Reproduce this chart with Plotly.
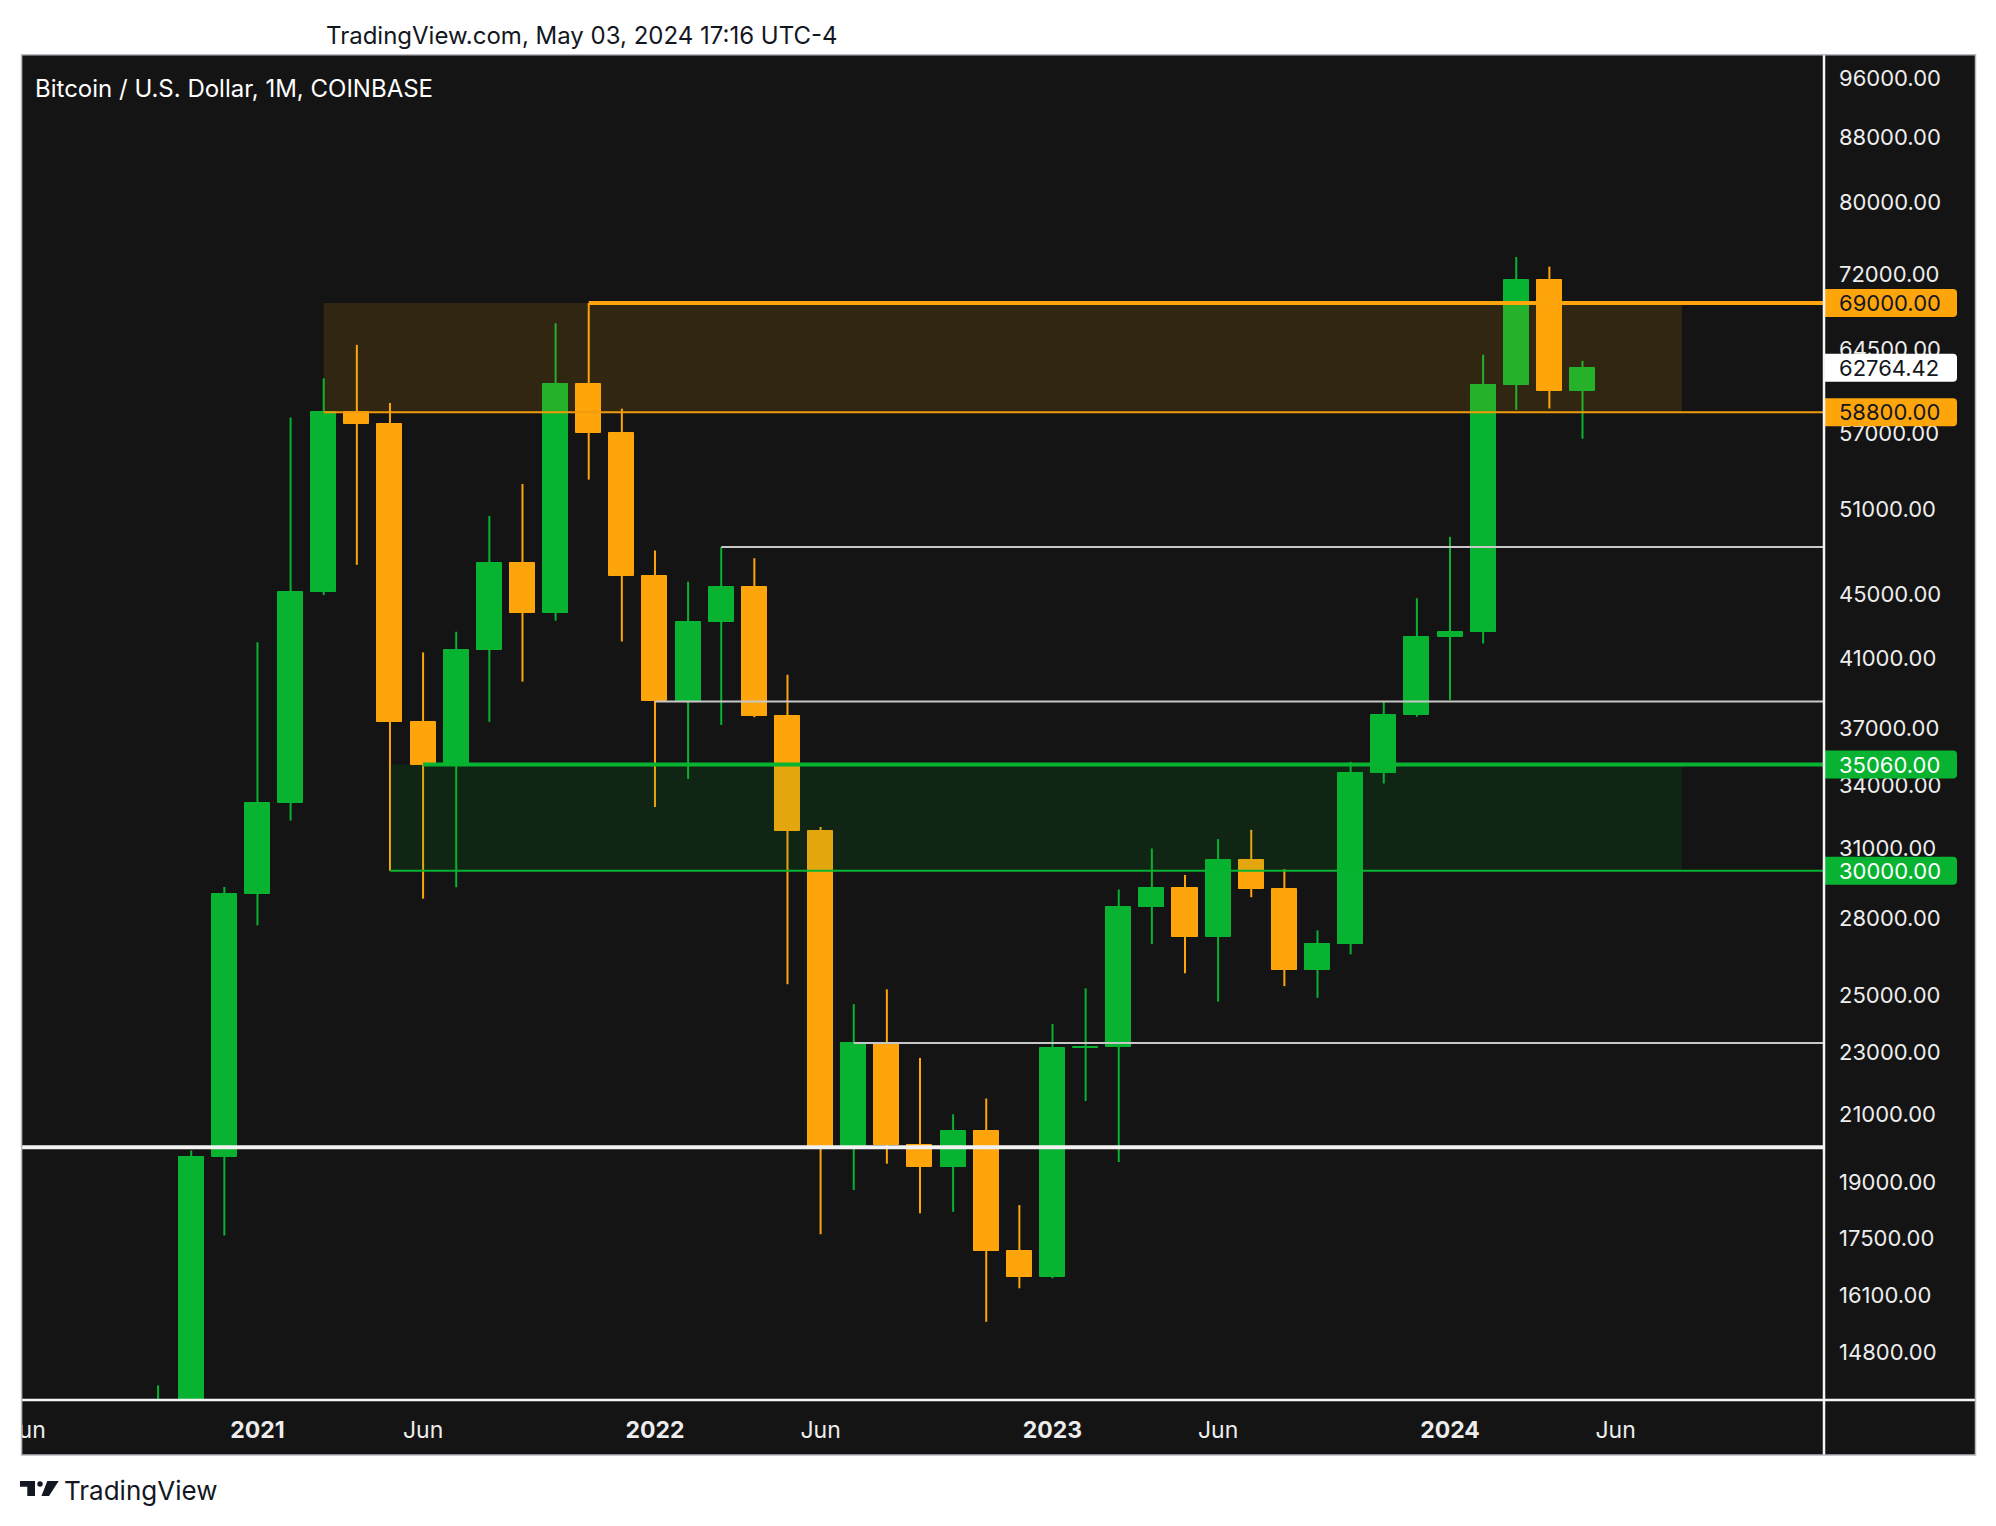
import numpy as np
import plotly.graph_objects as go

# ---------------- data (monthly BTC/USD, Coinbase) ----------------
months = ["2020-10", "2020-11", "2020-12",
          "2021-01", "2021-02", "2021-03", "2021-04", "2021-05", "2021-06",
          "2021-07", "2021-08", "2021-09", "2021-10", "2021-11", "2021-12",
          "2022-01", "2022-02", "2022-03", "2022-04", "2022-05", "2022-06",
          "2022-07", "2022-08", "2022-09", "2022-10", "2022-11", "2022-12",
          "2023-01", "2023-02", "2023-03", "2023-04", "2023-05", "2023-06",
          "2023-07", "2023-08", "2023-09", "2023-10", "2023-11", "2023-12",
          "2024-01", "2024-02", "2024-03", "2024-04", "2024-05"]
opens = [10780, 13800, 19700,
         28990, 33115, 45160, 58800, 57750, 37300,
         35060, 41460, 47130, 43820, 61320, 57000,
         46210, 38466, 43190, 45510, 37640, 31800,
         19940, 23300, 20050, 19420, 20490, 17170,
         16540, 23130, 23150, 28460, 29250, 27220,
         30470, 29230, 25940, 26960, 34650, 37720,
         42280, 42580, 61170, 71330, 60670]
highs = [14100, 19900, 29300,
         41950, 58350, 61790, 64900, 59600, 41330,
         42600, 50500, 52920, 67000, 69000, 59100,
         47990, 45850, 48240, 47460, 40000, 31990,
         24670, 25210, 22800, 20990, 21480, 18370,
         23960, 25250, 29190, 31000, 29820, 31430,
         31860, 30070, 27490, 35200, 38450, 44750,
         48970, 63970, 73840, 72800, 63400]
lows = [10370, 13240, 17570,
        27700, 32300, 44960, 47000, 30000, 28800,
        29280, 37330, 39600, 43300, 53260, 42000,
        32950, 34330, 37160, 37580, 25400, 17600,
        18780, 19520, 18150, 18190, 15480, 16260,
        16500, 21400, 19570, 26940, 25810, 24760,
        28860, 25330, 24900, 26540, 34100, 37610,
        38550, 41880, 59000, 59120, 56550]
closes = [13800, 19700, 28990,
          33115, 45160, 58800, 57750, 37300, 35060,
          41460, 47130, 43820, 61320, 57000, 46210,
          38466, 43190, 45510, 37640, 31800, 19940,
          23300, 20050, 19420, 20490, 17170, 16540,
          23130, 23150, 28460, 29250, 27220, 30470,
          29230, 25940, 26960, 34650, 37720, 42280,
          42580, 61170, 71330, 60670, 62764.42]

# time-axis labels (bar index: 0 = Oct 2020)
x_tick_idx = [-4, 3, 8, 15, 20, 27, 32, 39, 44]
x_tick_text = ["Jun", "<b>2021</b>", "Jun", "<b>2022</b>", "Jun",
               "<b>2023</b>", "Jun", "<b>2024</b>", "Jun"]

# price-axis labels
y_tick_vals = [96000, 88000, 80000, 72000, 64500, 57000, 51000, 45000, 41000,
               37000, 34000, 31000, 28000, 25000, 23000, 21000, 19000, 17500,
               16100, 14800]

# drawn levels
zone_top = [69000, 58800]       # resistance zone
zone_bottom = [35060, 30000]    # support zone
white_levels = [48240, 38466, 23300]
white_level_start = [17, 15, 21]   # bar index where each level starts
big_level = 20000
last_price = 62764.42

# ---------------- styling ----------------
OFF = 8                      # page body margin
W, H = 1996 - OFF, 1526 - OFF
L, T = 22 - OFF, 55 - OFF
R = W - (1824 - OFF)
B = H - (1400 - OFF)
PW, PH = W - L - R, H - T - B
BG = "#141414"
GREEN = "#07b331"
ORANGE = "#ffa50c"
TXT = "#ededed"
DARK = "#131722"
FONT = "Inter"


def PX(x):   # page pixel -> paper
    return (x - OFF - L) / PW


def PY(y):
    return (H - B - (y - OFF)) / PH


idx = list(range(len(months)))
up = [c >= o for o, c in zip(opens, closes)]
cols = [GREEN if u else ORANGE for u in up]

fig = go.Figure()

# wicks
for flag, col in [(True, GREEN), (False, ORANGE)]:
    wx, wy = [], []
    for i, h, l, u in zip(idx, highs, lows, up):
        if u == flag:
            wx += [i, i, None]
            wy += [l, h, None]
    fig.add_trace(go.Scatter(x=wx, y=wy, mode="lines",
                             line=dict(color=col, width=2),
                             hoverinfo="skip", showlegend=False))

# bodies
fig.add_trace(go.Bar(x=idx, y=[c - o for o, c in zip(opens, closes)], base=opens,
                     width=0.755,
                     marker=dict(color=cols, line=dict(color=cols, width=1)),
                     hoverinfo="skip", showlegend=False))

XMIN, XMAX = -4.108, 50.29
shapes = []
FR_L = PX(21.6)
FR_R = PX(1975.5)
FR_B = PY(1455)
FR_T = PY(54.7)
shapes.append(dict(type="rect", xref="paper", yref="paper", x0=FR_L, x1=FR_R,
                   y0=FR_B, y1=FR_T, fillcolor=BG, line=dict(width=0), layer="below"))

# zones (translucent, above candles)
shapes.append(dict(type="rect", xref="x", yref="y", x0=5, x1=46,
                   y0=zone_top[1], y1=zone_top[0],
                   fillcolor="rgba(255,165,0,0.125)", line=dict(width=0), layer="above"))
shapes.append(dict(type="rect", xref="x", yref="y", x0=7, x1=46,
                   y0=zone_bottom[1], y1=zone_bottom[0],
                   fillcolor="rgba(0,180,40,0.11)", line=dict(width=0), layer="above"))
# zone lines
shapes.append(dict(type="line", xref="x", yref="y", x0=13, x1=XMAX,
                   y0=zone_top[0], y1=zone_top[0], line=dict(color=ORANGE, width=4), layer="above"))
shapes.append(dict(type="line", xref="x", yref="y", x0=5, x1=XMAX,
                   y0=zone_top[1], y1=zone_top[1], line=dict(color="#f29a0e", width=2), layer="above"))
shapes.append(dict(type="line", xref="x", yref="y", x0=8, x1=XMAX,
                   y0=zone_bottom[0], y1=zone_bottom[0], line=dict(color=GREEN, width=4), layer="above"))
shapes.append(dict(type="line", xref="x", yref="y", x0=7, x1=XMAX,
                   y0=zone_bottom[1], y1=zone_bottom[1], line=dict(color=GREEN, width=2), layer="above"))
# white levels
for lv, st in zip(white_levels, white_level_start):
    shapes.append(dict(type="line", xref="x", yref="y", x0=st, x1=XMAX, y0=lv, y1=lv,
                       line=dict(color="#c8c8c8", width=2), layer="above"))
shapes.append(dict(type="line", xref="x", yref="y", x0=XMIN, x1=XMAX, y0=big_level, y1=big_level,
                   line=dict(color="#f2f2f2", width=4), layer="above"))

# price labels on the axis
boxes = [(zone_top[0], ORANGE, DARK), (last_price, "#ffffff", DARK), (zone_top[1], ORANGE, DARK),
         (zone_bottom[0], GREEN, "#ffffff"), (zone_bottom[1], GREEN, "#ffffff")]
box_path = "M0,-14 L129,-14 Q133,-14 133,-10 L133,10 Q133,14 129,14 L0,14 Z"
annotations = []
for v, bg, fg in boxes:
    shapes.append(dict(type="path", xref="paper", yref="y", xsizemode="pixel", ysizemode="pixel",
                       xanchor=1, yanchor=v, path=box_path, fillcolor=bg,
                       line=dict(width=0), layer="above"))
    annotations.append(dict(xref="paper", yref="y", x=1, y=float(np.log10(v)), xanchor="left",
                            yanchor="middle", xshift=13, showarrow=False,
                            text=f"{v:.2f}", font=dict(family=FONT, size=22, color=fg)))

# white cover left of the frame (clips the first time label)
shapes.append(dict(type="rect", xref="paper", yref="paper", x0=PX(0), x1=FR_L,
                   y0=FR_B - 0.01, y1=0.0, fillcolor="white", line=dict(width=0), layer="above"))
# separators and frame border
shapes.append(dict(type="line", xref="paper", yref="paper", x0=FR_L, x1=FR_R, y0=0, y1=0,
                   line=dict(color="#f5f5f5", width=2.5), layer="above"))
shapes.append(dict(type="line", xref="paper", yref="paper", x0=1, x1=1, y0=FR_B, y1=FR_T,
                   line=dict(color="#f5f5f5", width=2.5), layer="above"))
shapes.append(dict(type="rect", xref="paper", yref="paper", x0=FR_L, x1=FR_R, y0=FR_B, y1=FR_T,
                   line=dict(color="#b7b7bf", width=1.5), layer="above"))


# TradingView logo
def poly(pts):
    return "M" + " L".join(f"{PX(x):.5f},{PY(y):.5f}" for x, y in pts) + " Z"


shapes.append(dict(type="path", xref="paper", yref="paper",
                   path=poly([(20, 1481), (35, 1481), (35, 1496), (27.3, 1496), (27.3, 1486.7), (20, 1486.7)]),
                   fillcolor=DARK, line=dict(width=0), layer="above"))
shapes.append(dict(type="circle", xref="paper", yref="paper", x0=PX(37.3), x1=PX(42.7),
                   y0=PY(1486.7), y1=PY(1481.3), fillcolor=DARK, line=dict(width=0), layer="above"))
shapes.append(dict(type="path", xref="paper", yref="paper",
                   path=poly([(47.3, 1481), (58.7, 1481), (49.0, 1496), (41.5, 1496)]),
                   fillcolor=DARK, line=dict(width=0), layer="above"))

annotations += [
    dict(xref="paper", yref="paper", x=PX(582), y=PY(36), xanchor="center", yanchor="middle",
         showarrow=False, text="TradingView.com, May 03, 2024 17:16 UTC-4",
         font=dict(family=FONT, size=24, color=DARK)),
    dict(xref="paper", yref="paper", x=PX(33), y=PY(89), xanchor="left", yanchor="middle",
         showarrow=False, text="Bitcoin / U.S. Dollar, 1M, COINBASE",
         font=dict(family=FONT, size=24, color="#ffffff")),
    dict(xref="paper", yref="paper", x=PX(62), y=PY(1490), xanchor="left", yanchor="middle",
         showarrow=False, text="TradingView",
         font=dict(family=FONT, size=26, color=DARK)),
]

fig.update_layout(
    width=W, height=H,
    margin=dict(l=L, r=R, t=T, b=B, autoexpand=False),
    paper_bgcolor="white", plot_bgcolor=BG,
    showlegend=False, barmode="overlay", bargap=0,
    shapes=shapes, annotations=annotations,
    xaxis=dict(range=[XMIN, XMAX], tickmode="array", tickvals=x_tick_idx, ticktext=x_tick_text,
               showgrid=False, zeroline=False, showline=False, ticks="",
               tickfont=dict(family=FONT, size=23, color=TXT), ticklabelstandoff=14,
               ticklabeloverflow="allow", fixedrange=True),
    yaxis=dict(type="log", range=[4.13993, 4.99695], side="right", tickmode="array",
               tickvals=y_tick_vals, ticktext=[f"{v:.2f}" for v in y_tick_vals],
               showgrid=False, zeroline=False, showline=False, ticks="",
               tickfont=dict(family=FONT, size=22, color=TXT), ticklabelstandoff=14,
               fixedrange=True),
)

fig.write_html("out.html")
